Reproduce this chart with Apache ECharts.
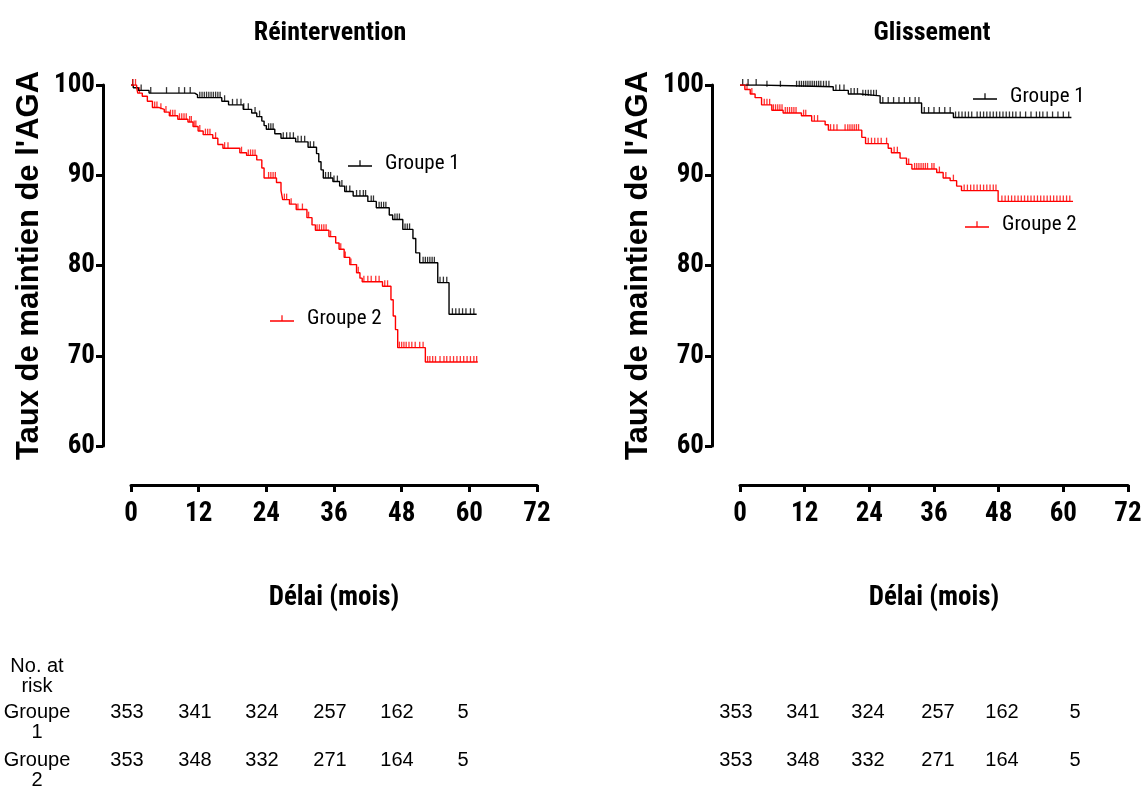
<!DOCTYPE html>
<html><head><meta charset="utf-8">
<script src="https://cdn.jsdelivr.net/npm/echarts@6/dist/echarts.min.js"></script>
<style>html,body{margin:0;padding:0;background:#fff}#c{width:1146px;height:796px}</style>
</head><body><div id="c"></div>
<script>
// ---------- axis ticks ----------
const xTickLabels = [0, 12, 24, 36, 48, 60, 72];
const yTickLabels = [60, 70, 80, 90, 100];

// ---------- Réintervention ----------
const reinG1Time = [0, 0.4, 1.3, 3.2, 11.3, 11.8, 16.1, 17.3, 19.9, 21.4, 22.3, 23.2, 23.6, 24.0, 25.5, 26.6, 29.2, 31.4, 32.9, 33.3, 33.7, 34.1, 35.8, 37.0, 37.9, 39.4, 42.0, 43.5, 45.8, 46.4, 48.2, 50.0, 50.5, 51.2, 54.4, 56.4, 61.3];
const reinG1Surv = [100, 99.7, 99.4, 99.1, 98.9, 98.6, 98.2, 97.8, 97.3, 96.9, 96.5, 96.0, 95.5, 95.1, 94.6, 94.1, 93.7, 93.1, 92.4, 91.5, 90.6, 89.7, 89.3, 88.8, 88.2, 87.7, 87.1, 86.4, 85.6, 85.1, 84.0, 83.0, 81.4, 80.3, 78.1, 74.6, 74.6];
const reinG1Censor = [0.3, 1.8, 3.5, 6.3, 8.5, 9.5, 10.5, 12.2, 12.6, 13.0, 13.4, 13.8, 14.2, 14.6, 15.0, 15.4, 15.8, 16.6, 18.0, 18.8, 19.5, 20.0, 20.8, 22.0, 22.8, 24.4, 24.8, 25.2, 27.0, 27.6, 28.2, 28.8, 29.6, 30.2, 30.8, 31.8, 32.4, 34.5, 35.0, 35.4, 36.0, 36.6, 37.4, 38.2, 38.8, 40.0, 40.6, 41.2, 41.6, 42.6, 43.0, 44.0, 44.4, 44.8, 45.2, 46.8, 47.2, 47.6, 48.6, 49.0, 49.4, 51.8, 52.2, 52.6, 53.0, 53.4, 53.8, 54.8, 55.4, 56.0, 57.0, 57.6, 58.2, 58.8, 59.4, 60.2, 60.8];

const reinG2Time = [0, 1.0, 1.2, 2.0, 2.9, 3.8, 5.0, 5.9, 6.8, 8.3, 10.1, 11.0, 11.9, 12.8, 14.5, 15.4, 16.3, 19.3, 20.5, 22.3, 23.2, 23.6, 25.8, 26.6, 26.9, 28.1, 29.3, 31.2, 32.1, 32.7, 35.1, 36.3, 36.9, 37.8, 38.8, 40.0, 40.6, 41.0, 44.6, 46.1, 46.5, 46.9, 47.3, 52.2, 61.5];
const reinG2Surv = [100, 99.7, 99.1, 98.75, 98.2, 97.5, 97.3, 97.0, 96.6, 96.2, 95.9, 95.4, 94.9, 94.5, 94.1, 93.4, 93.0, 92.5, 92.2, 91.7, 90.8, 89.7, 89.2, 88.3, 87.3, 86.8, 86.2, 85.3, 84.5, 83.9, 83.2, 82.5, 81.8, 80.9, 80.1, 79.2, 78.6, 78.2, 77.7, 76.2, 74.4, 72.9, 70.9, 69.3, 69.3];
const reinG2Censor = [0.3, 0.8, 1.5, 4.2, 4.6, 5.3, 6.2, 7.0, 7.4, 7.8, 8.6, 9.0, 9.4, 9.8, 10.4, 10.7, 11.2, 11.5, 12.2, 13.2, 13.6, 14.0, 15.0, 16.6, 17.2, 19.6, 20.8, 21.2, 21.6, 22.0, 24.4, 24.8, 25.2, 25.6, 27.2, 27.6, 28.4, 29.6, 30.4, 31.5, 33.0, 33.4, 33.8, 34.2, 34.6, 35.4, 37.2, 38.0, 39.0, 40.3, 41.3, 42.0, 42.6, 43.4, 44.0, 45.0, 45.5, 47.6, 48.0, 48.4, 48.8, 49.3, 49.8, 50.4, 51.2, 51.8, 52.6, 53.0, 53.5, 54.0, 54.8, 55.5, 56.0, 56.6, 57.2, 57.8, 58.4, 59.0, 59.6, 60.2, 60.8, 61.3];

// ---------- Glissement ----------
const gliG1Time = [0, 3.7, 17.3, 20.1, 22.3, 26.0, 33.7, 39.6, 61.5];
const gliG1Surv = [100, 99.8, 99.4, 99.0, 98.8, 98.0, 96.9, 96.4, 96.4];
const gliG1Censor = [0.5, 1.5, 3.0, 5.0, 7.5, 10.5, 11.0, 11.4, 11.8, 12.2, 12.6, 13.0, 13.4, 13.8, 14.2, 14.6, 15.0, 15.5, 16.0, 16.5, 17.8, 18.5, 19.3, 20.6, 21.2, 21.8, 22.8, 23.3, 23.8, 24.3, 24.8, 25.3, 26.5, 27.5, 28.5, 29.5, 30.5, 31.5, 32.5, 33.2, 34.2, 35.0, 36.0, 37.0, 38.0, 39.0, 40.0, 40.6, 41.2, 41.8, 42.4, 43.0, 44.0, 44.6, 45.2, 45.8, 46.4, 47.0, 47.6, 48.2, 48.8, 49.4, 50.0, 50.6, 51.2, 52.0, 53.0, 54.0, 55.0, 55.6, 56.2, 57.0, 58.0, 59.0, 60.0, 61.0];

const gliG2Time = [0, 0.9, 1.9, 2.8, 4.0, 5.9, 8.0, 11.4, 13.3, 15.8, 16.4, 22.6, 23.3, 27.5, 28.1, 29.7, 30.9, 31.9, 36.5, 37.7, 39.0, 40.2, 41.1, 47.9, 61.8];
const gliG2Surv = [100, 99.5, 99.0, 98.6, 97.8, 97.2, 96.9, 96.6, 96.0, 95.6, 95.0, 94.2, 93.5, 93.0, 92.5, 91.9, 91.2, 90.7, 90.3, 89.7, 89.4, 88.8, 88.3, 87.1, 87.1];
const gliG2Censor = [1.3, 2.2, 4.5, 5.0, 5.5, 6.2, 6.6, 7.0, 7.4, 7.8, 8.4, 8.8, 9.2, 9.6, 10.0, 10.4, 11.8, 12.2, 13.8, 14.4, 16.8, 17.4, 18.0, 19.5, 20.0, 20.4, 20.8, 21.2, 21.6, 22.0, 23.8, 24.4, 25.0, 25.6, 26.2, 27.2, 28.6, 29.2, 31.3, 32.4, 32.8, 33.2, 33.6, 34.0, 34.4, 34.8, 35.6, 36.0, 37.0, 38.2, 39.6, 41.6, 42.2, 42.8, 43.4, 44.0, 44.6, 45.2, 45.8, 46.4, 47.0, 47.5, 48.6, 49.2, 49.8, 50.4, 51.0, 51.6, 52.2, 52.8, 53.4, 54.0, 54.6, 55.2, 55.8, 56.4, 57.0, 57.6, 58.2, 58.8, 59.4, 60.0, 60.6, 61.2];

// ---------- risk table ----------
const riskHeader = 'No. at\nrisk';
const groupNames = ['Groupe 1', 'Groupe 2'];
const groupRowLabels = ['Groupe\n1', 'Groupe\n2'];
const riskG1 = [353, 341, 324, 257, 162, 5];
const riskG2 = [353, 348, 332, 271, 164, 5];

// ---------- texts ----------
const titles = ['Réintervention', 'Glissement'];
const xName = 'Délai (mois)';
const yName = "Taux de maintien de l'AGA";

// ---------- layout (not data) ----------
const NARROW = "'Roboto Condensed', 'Liberation Sans Narrow', 'Arial Narrow', 'DejaVu Sans Condensed', sans-serif";
const SANS = "'Liberation Sans', Arial, sans-serif";
const colLeft = [127, 195, 262, 330, 397, 463];
const colRight = [736, 803, 868, 938, 1002, 1075];
const rowY = [712, 760];

function steps(t, s) { return t.map((x, i) => [x, s[i]]); }
function survAt(t, times, surv) {
  let v = surv[0];
  for (let i = 0; i < times.length; i++) { if (times[i] <= t) v = surv[i]; }
  return v;
}
function censorPts(c, times, surv) { return c.map(t => [t, survAt(t, times, surv)]); }

const chart = echarts.init(document.getElementById('c'), null, { renderer: 'canvas' });

function xAxisCfg(gi) {
  return {
    gridIndex: gi, type: 'value', min: xTickLabels[0], max: xTickLabels[xTickLabels.length - 1],
    interval: xTickLabels[1] - xTickLabels[0], offset: 39,
    axisLine: { show: true, onZero: false, lineStyle: { color: '#000', width: 3 } },
    axisTick: { show: true, length: 7, lineStyle: { color: '#000', width: 3 } },
    axisLabel: { margin: 16, fontSize: 27, fontWeight: 'bold', fontFamily: NARROW, color: '#000' },
    splitLine: { show: false },
    name: xName, nameLocation: 'middle', nameGap: 100,
    nameTextStyle: { fontSize: 27, fontWeight: 'bold', fontFamily: NARROW, color: '#000' }
  };
}
function yAxisCfg(gi) {
  return {
    gridIndex: gi, type: 'value', min: yTickLabels[0], max: yTickLabels[yTickLabels.length - 1],
    interval: yTickLabels[1] - yTickLabels[0], offset: 28,
    axisLine: { show: true, onZero: false, lineStyle: { color: '#000', width: 3 } },
    axisTick: { show: true, length: 7, lineStyle: { color: '#000', width: 3 } },
    axisLabel: { margin: 8, fontSize: 27, fontWeight: 'bold', fontFamily: NARROW, color: '#000' },
    splitLine: { show: false },
    name: yName, nameLocation: 'middle', nameGap: 58, nameRotate: 90,
    nameTextStyle: { fontSize: 31, fontWeight: 'bold', fontFamily: SANS, color: '#000' }
  };
}
function kmLine(name, gi, t, s, color) {
  return { type: 'line', name: name, xAxisIndex: gi, yAxisIndex: gi, step: 'end', showSymbol: false,
    symbol: 'none', lineStyle: { color: color, width: 1.4 }, itemStyle: { color: color },
    data: steps(t, s), animation: false, z: 3 };
}
function kmCensor(gi, c, t, s, color) {
  return { type: 'scatter', name: 'censor', xAxisIndex: gi, yAxisIndex: gi, symbol: 'rect',
    symbolSize: [1.3, 6], symbolOffset: [0, -3], itemStyle: { color: color },
    data: censorPts(c, t, s), animation: false, silent: true, z: 2 };
}
const ICON = 'path://M0,6 L24,6 L24,7.5 L0,7.5 Z M11.4,1 L12.6,1 L12.6,6 L11.4,6 Z';
function legendCfg(name, left, top) {
  return { data: [name], left: left, top: top, icon: ICON, itemWidth: 24, itemHeight: 7,
    selectedMode: false, padding: 0,
    textStyle: { fontSize: 21, fontFamily: NARROW, color: '#000', padding: [0, 0, 0, 8] } };
}

const graphics = [];
function txt(x, y, text, align) {
  graphics.push({ type: 'text', x: x, y: y, silent: true,
    style: { text: text, fill: '#000', font: '20px ' + SANS, textAlign: align || 'center',
      textVerticalAlign: 'middle', lineHeight: 20 } });
}
txt(37, 676, riskHeader);
groupRowLabels.forEach((lab, r) => txt(37, rowY[r] + 10, lab));
[riskG1, riskG2].forEach((row, r) => {
  row.forEach((v, i) => { txt(colLeft[i], rowY[r], String(v)); txt(colRight[i], rowY[r], String(v)); });
});

const option = {
  backgroundColor: '#fff',
  animation: false,
  title: [
    { text: titles[0], left: 325, top: 15, textAlign: 'center',
      textStyle: { fontSize: 26, fontWeight: 'bold', fontFamily: NARROW, color: '#000' } },
    { text: titles[1], left: 927, top: 15, textAlign: 'center',
      textStyle: { fontSize: 26, fontWeight: 'bold', fontFamily: NARROW, color: '#000' } }
  ],
  grid: [
    { left: 131, top: 85, width: 406, height: 361 },
    { left: 740, top: 85, width: 388, height: 361 }
  ],
  xAxis: [xAxisCfg(0), xAxisCfg(1)],
  yAxis: [yAxisCfg(0), yAxisCfg(1)],
  legend: [
    legendCfg(groupNames[0], 348, 153),
    legendCfg(groupNames[1], 270, 308),
    legendCfg(groupNames[0], 973, 86),
    legendCfg(groupNames[1], 965, 214)
  ],
  series: [
    kmCensor(0, reinG1Censor, reinG1Time, reinG1Surv, '#000'),
    kmCensor(0, reinG2Censor, reinG2Time, reinG2Surv, '#ff0000'),
    kmCensor(1, gliG1Censor, gliG1Time, gliG1Surv, '#000'),
    kmCensor(1, gliG2Censor, gliG2Time, gliG2Surv, '#ff0000'),
    kmLine(groupNames[0], 0, reinG1Time, reinG1Surv, '#000'),
    kmLine(groupNames[1], 0, reinG2Time, reinG2Surv, '#ff0000'),
    kmLine(groupNames[0], 1, gliG1Time, gliG1Surv, '#000'),
    kmLine(groupNames[1], 1, gliG2Time, gliG2Surv, '#ff0000')
  ],
  graphic: graphics
};
chart.setOption(option);
</script>
</body></html>
